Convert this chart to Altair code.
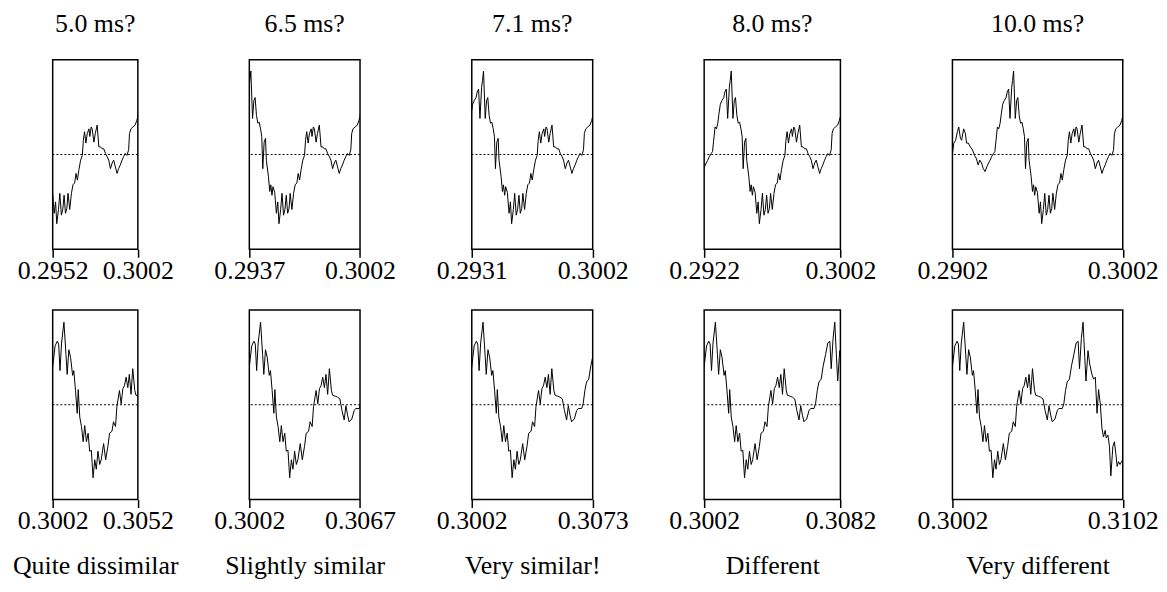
import altair as alt
import pandas as pd

# ---- waveform (time in s, amplitude in relative units) ----
time_s = [
    0.29020, 0.29028, 0.29039, 0.29049, 0.29057, 0.29067, 0.29074, 0.29086, 0.29096, 0.29103,
    0.29113, 0.29125, 0.29137, 0.29150, 0.29160, 0.29171, 0.29181, 0.29191, 0.29201, 0.29212,
    0.29222, 0.29232, 0.29241, 0.29251, 0.29261, 0.29269, 0.29276, 0.29284, 0.29292, 0.29300,
    0.29307, 0.29315, 0.29325, 0.29335, 0.29342, 0.29350, 0.29358, 0.29368, 0.29373, 0.29379,
    0.29389, 0.29397, 0.29404, 0.29412, 0.29420, 0.29428, 0.29436, 0.29443, 0.29449, 0.29457,
    0.29465, 0.29470, 0.29482, 0.29490, 0.29496, 0.29503, 0.29509, 0.29519, 0.29529, 0.29537,
    0.29544, 0.29554, 0.29562, 0.29571, 0.29579, 0.29587, 0.29595, 0.29603, 0.29610, 0.29620,
    0.29630, 0.29639, 0.29649, 0.29657, 0.29665, 0.29674, 0.29684, 0.29694, 0.29700, 0.29707,
    0.29715, 0.29723, 0.29733, 0.29738, 0.29746, 0.29752, 0.29762, 0.29770, 0.29781, 0.29791,
    0.29801, 0.29810, 0.29820, 0.29830, 0.29839, 0.29849, 0.29859, 0.29869, 0.29878, 0.29888,
    0.29898, 0.29907, 0.29917, 0.29927, 0.29937, 0.29946, 0.29956, 0.29966, 0.29971, 0.29979,
    0.29991, 0.30004, 0.30014, 0.30020,
    0.30034, 0.30047, 0.30055, 0.30063, 0.30072, 0.30086, 0.30098, 0.30105, 0.30115, 0.30125,
    0.30137, 0.30144, 0.30154, 0.30164, 0.30170, 0.30179, 0.30189, 0.30199, 0.30208, 0.30218,
    0.30228, 0.30237, 0.30247, 0.30257, 0.30267, 0.30276, 0.30286, 0.30296, 0.30305, 0.30319,
    0.30331, 0.30344, 0.30354, 0.30368, 0.30377, 0.30389, 0.30397, 0.30412, 0.30422, 0.30432,
    0.30441, 0.30451, 0.30461, 0.30470, 0.30480, 0.30490, 0.30502, 0.30509, 0.30525, 0.30538,
    0.30552, 0.30564, 0.30577, 0.30587, 0.30597, 0.30606, 0.30622, 0.30636, 0.30645, 0.30665,
    0.30674, 0.30684, 0.30694, 0.30707, 0.30719, 0.30733, 0.30746, 0.30758, 0.30766, 0.30777,
    0.30787, 0.30797, 0.30804, 0.30816, 0.30826, 0.30839, 0.30849, 0.30859, 0.30869, 0.30878,
    0.30888, 0.30898, 0.30907, 0.30917, 0.30923, 0.30933, 0.30942, 0.30950, 0.30962, 0.30971,
    0.30979, 0.30987, 0.30995, 0.31004, 0.31010, 0.31020,
]
amplitude = [
    0.01, 0.12, 0.15, 0.24, 0.29, 0.17, 0.15, 0.27, 0.22, 0.12,
    0.12, 0.08, 0.05, -0.01, -0.04, -0.11, -0.06, -0.09, -0.15, -0.18,
    -0.13, -0.09, -0.06, -0.02, 0.01, 0.03, 0.15, 0.29, 0.27, 0.33,
    0.43, 0.53, 0.57, 0.60, 0.66, 0.69, 0.38, 0.71, 0.78, 0.88,
    0.38, 0.57, 0.60, 0.41, 0.33, 0.34, 0.27, 0.19, -0.15, 0.13,
    0.17, -0.06, -0.23, -0.39, -0.32, -0.43, -0.34, -0.40, -0.62, -0.50,
    -0.73, -0.58, -0.41, -0.64, -0.58, -0.43, -0.62, -0.57, -0.41, -0.58,
    -0.41, -0.32, -0.30, -0.20, -0.27, -0.16, -0.06, -0.01, 0.15, 0.24,
    0.12, 0.22, 0.27, 0.19, 0.29, 0.27, 0.13, 0.22, 0.31, 0.08,
    0.08, 0.06, 0.06, 0.01, -0.02, -0.06, -0.15, -0.09, -0.06, -0.13,
    -0.20, -0.15, -0.11, -0.06, -0.02, 0.01, -0.01, 0.05, 0.22, 0.27,
    0.29, 0.31, 0.36, 0.40,
    0.62, 0.67, 0.64, 0.36, 0.65, 0.87, 0.53, 0.32, 0.58, 0.50,
    0.31, 0.36, 0.15, -0.09, 0.16, -0.13, -0.23, -0.39, -0.22, -0.39,
    -0.30, -0.49, -0.48, -0.77, -0.58, -0.68, -0.49, -0.63, -0.58, -0.41,
    -0.58, -0.44, -0.30, -0.28, -0.18, -0.23, -0.02, 0.15, 0.01, 0.17,
    0.20, 0.29, 0.18, 0.32, 0.11, 0.38, 0.15, 0.10, 0.09, 0.08,
    0.06, -0.06, -0.16, -0.01, -0.11, -0.18, -0.15, -0.06, -0.04, -0.04,
    0.01, 0.15, 0.24, 0.27, 0.41, 0.53, 0.65, 0.67, 0.38, 0.70,
    0.87, 0.50, 0.25, 0.57, 0.43, 0.32, 0.27, 0.29, -0.09, 0.16,
    0.01, -0.25, -0.34, -0.27, -0.35, -0.32, -0.44, -0.75, -0.44, -0.39,
    -0.51, -0.65, -0.60, -0.63, -0.61, -0.58,
]

# ---- panel windows and texts ----
split_time = 0.3002
top_starts = [0.2952, 0.2937, 0.2931, 0.2922, 0.2902]
bottom_ends = [0.3052, 0.3067, 0.3073, 0.3082, 0.3102]
durations_ms = [5.0, 6.5, 7.1, 8.0, 10.0]
column_titles = ["5.0 ms?", "6.5 ms?", "7.1 ms?", "8.0 ms?", "10.0 ms?"]
verdicts = ["Quite dissimilar", "Slightly similar", "Very similar!", "Different", "Very different"]

df = pd.DataFrame({"t": time_s, "a": amplitude})
zero_df = pd.DataFrame({"a": [0.0]})

FONT = "Liberation Serif"
FS = 26
PX_PER_MS = 17.15
PANEL_H = 191


def panel(lo, hi, dur, title_text=None, axis_title=None):
    axis_kw = dict(
        values=[lo, hi], format=".4f", labelFlush=False, labelOverlap=False,
        labelBound=False, grid=False, domain=False, ticks=True, tickSize=8,
        tickWidth=1.5, tickColor="black", labelFont=FONT, labelFontSize=FS,
        labelColor="black", labelPadding=0,
    )
    if axis_title:
        axis_kw.update(title=axis_title, titleFont=FONT, titleFontSize=FS,
                       titleFontWeight="normal", titleColor="black", titlePadding=19.5)
    else:
        axis_kw.update(title="")
    x = alt.X("t:Q", scale=alt.Scale(domain=[lo, hi], nice=False, zero=False),
              axis=alt.Axis(**axis_kw))
    y = alt.Y("a:Q", scale=alt.Scale(domain=[-1, 1], nice=False), axis=None)
    rule = alt.Chart(zero_df).mark_rule(color="black", strokeWidth=1,
                                        strokeDash=[2, 2]).encode(y=y)
    line = alt.Chart(df).mark_line(color="black", strokeWidth=1,
                                   clip=True).encode(x=x, y=y)
    props = dict(width=round(dur * PX_PER_MS, 2), height=PANEL_H)
    if title_text:
        props["title"] = alt.TitleParams(text=title_text, font=FONT, fontSize=FS,
                                         fontWeight="normal", color="black",
                                         anchor="middle", offset=22.5)
    return alt.layer(rule, line).properties(**props)


panels = [panel(s, split_time, d, title_text=tt)
          for s, d, tt in zip(top_starts, durations_ms, column_titles)]
panels += [panel(split_time, e, d, axis_title=v)
           for e, d, v in zip(bottom_ends, durations_ms, verdicts)]

chart = alt.concat(
    *panels, columns=5, bounds="flush",
    spacing={"row": 61, "column": 112},
).resolve_scale(x="independent").configure_view(
    stroke="black", strokeWidth=1.5
).properties(padding={"left": 3, "top": 0, "right": 0, "bottom": 0})

chart.save("out.html", embed_options={"renderer": "svg", "actions": False})
